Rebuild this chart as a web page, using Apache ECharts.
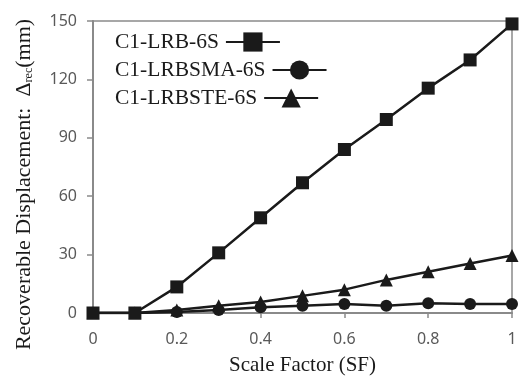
<!DOCTYPE html>
<html>
<head>
<meta charset="utf-8">
<script src="https://cdn.jsdelivr.net/npm/echarts@6/dist/echarts.min.js"></script>
<style>
  html, body { margin: 0; padding: 0; background: #fff; }
  #chart { width: 525px; height: 376px; }
</style>
</head>
<body>
<div id="chart"></div>
<script>
// Scale factor steps (x values)
const scaleFactors = [0, 0.1, 0.2, 0.3, 0.4, 0.5, 0.6, 0.7, 0.8, 0.9, 1.0];

// Recoverable displacement (mm) per bearing configuration
const lrb6s    = [0, 0, 13.4, 30.9, 48.9, 66.9, 84.0, 99.4, 115.5, 130.0, 148.5];
const lrbsma6s = [0, 0, 0.5, 1.5, 3.0, 3.7, 4.6, 3.7, 5.0, 4.6, 4.6];
const lrbste6s = [0, 0, 1.5, 3.7, 5.6, 8.8, 12.0, 17.0, 21.2, 25.4, 29.5];

const seriesNames = ['C1-LRB-6S', 'C1-LRBSMA-6S', 'C1-LRBSTE-6S'];

const toPairs = (vals) => scaleFactors.map((x, i) => [x, vals[i]]);

const ink = '#1a1a1a';
const axisGray = '#8a8a8a';
const labelGray = '#595959';

const chart = echarts.init(document.getElementById('chart'), null, { renderer: 'canvas' });

function lineSeries(name, vals, symbol, size, z) {
  return {
    name: name,
    type: 'line',
    data: toPairs(vals),
    symbol: symbol,
    symbolSize: size,
    z: z,
    lineStyle: { color: ink, width: 2.5 },
    itemStyle: { color: ink, borderColor: ink, borderWidth: 0 },
    emphasis: { disabled: true },
    animation: false
  };
}

// One legend per entry so each icon sits right after its own label
const legendTops = [26, 54, 82];
const legends = seriesNames.map((name, i) => ({
  orient: 'vertical',
  left: 110,
  top: legendTops[i],
  align: 'right',
  itemWidth: 54,
  itemHeight: 24,
  selectedMode: false,
  data: [name],
  textStyle: { fontFamily: 'Liberation Serif', fontSize: 21.5, color: ink, padding: [0, 2, 0, 0] }
}));

chart.setOption({
  backgroundColor: '#fff',
  animation: false,
  grid: {
    left: 93, right: 13, top: 21, bottom: 63,
    show: true,
    borderColor: axisGray,
    borderWidth: 1.5,
    containLabel: false,
    outerBoundsMode: 'none'
  },
  legend: legends,
  xAxis: {
    type: 'value',
    min: 0, max: 1, interval: 0.2,
    name: 'Scale Factor (SF)',
    nameLocation: 'middle',
    nameGap: 42,
    nameTextStyle: { fontFamily: 'Liberation Serif', fontSize: 21, color: ink },
    axisLine: { show: true, lineStyle: { color: axisGray, width: 2 } },
    axisTick: { show: true, inside: false, length: 5, lineStyle: { color: axisGray, width: 1.5 } },
    axisLabel: {
      margin: 18,
      fontFamily: 'Noto Sans', fontSize: 16, color: labelGray,
      formatter: (v) => (v === 0 ? '0' : v === 1 ? '1' : String(+v.toFixed(1)))
    },
    splitLine: { show: false }
  },
  yAxis: {
    type: 'value',
    min: 0, max: 150, interval: 30,
    name: '{a|Recoverable Displacement:  Δ}{s|rec}{a|(mm)}',
    nameLocation: 'middle',
    nameGap: 58,
    nameTextStyle: {
      color: ink,
      padding: [0, 35, 0, 0],
      rich: {
        a: { fontFamily: 'Liberation Serif', fontSize: 22, color: ink },
        s: { fontFamily: 'Liberation Serif', fontSize: 12, color: ink, verticalAlign: 'bottom', padding: [8, 0, 0, 0] }
      }
    },
    axisLine: { show: true, lineStyle: { color: axisGray, width: 2 } },
    axisTick: { show: true, inside: false, length: 6, lineStyle: { color: axisGray, width: 1.5 } },
    axisLabel: { margin: 16, fontFamily: 'Noto Sans', fontSize: 16, color: labelGray },
    splitLine: { show: false }
  },
  series: [
    lineSeries(seriesNames[0], lrb6s, 'rect', 13, 4),
    lineSeries(seriesNames[1], lrbsma6s, 'circle', 12, 3),
    lineSeries(seriesNames[2], lrbste6s, 'triangle', 13, 2)
  ]
});
</script>
</body>
</html>
